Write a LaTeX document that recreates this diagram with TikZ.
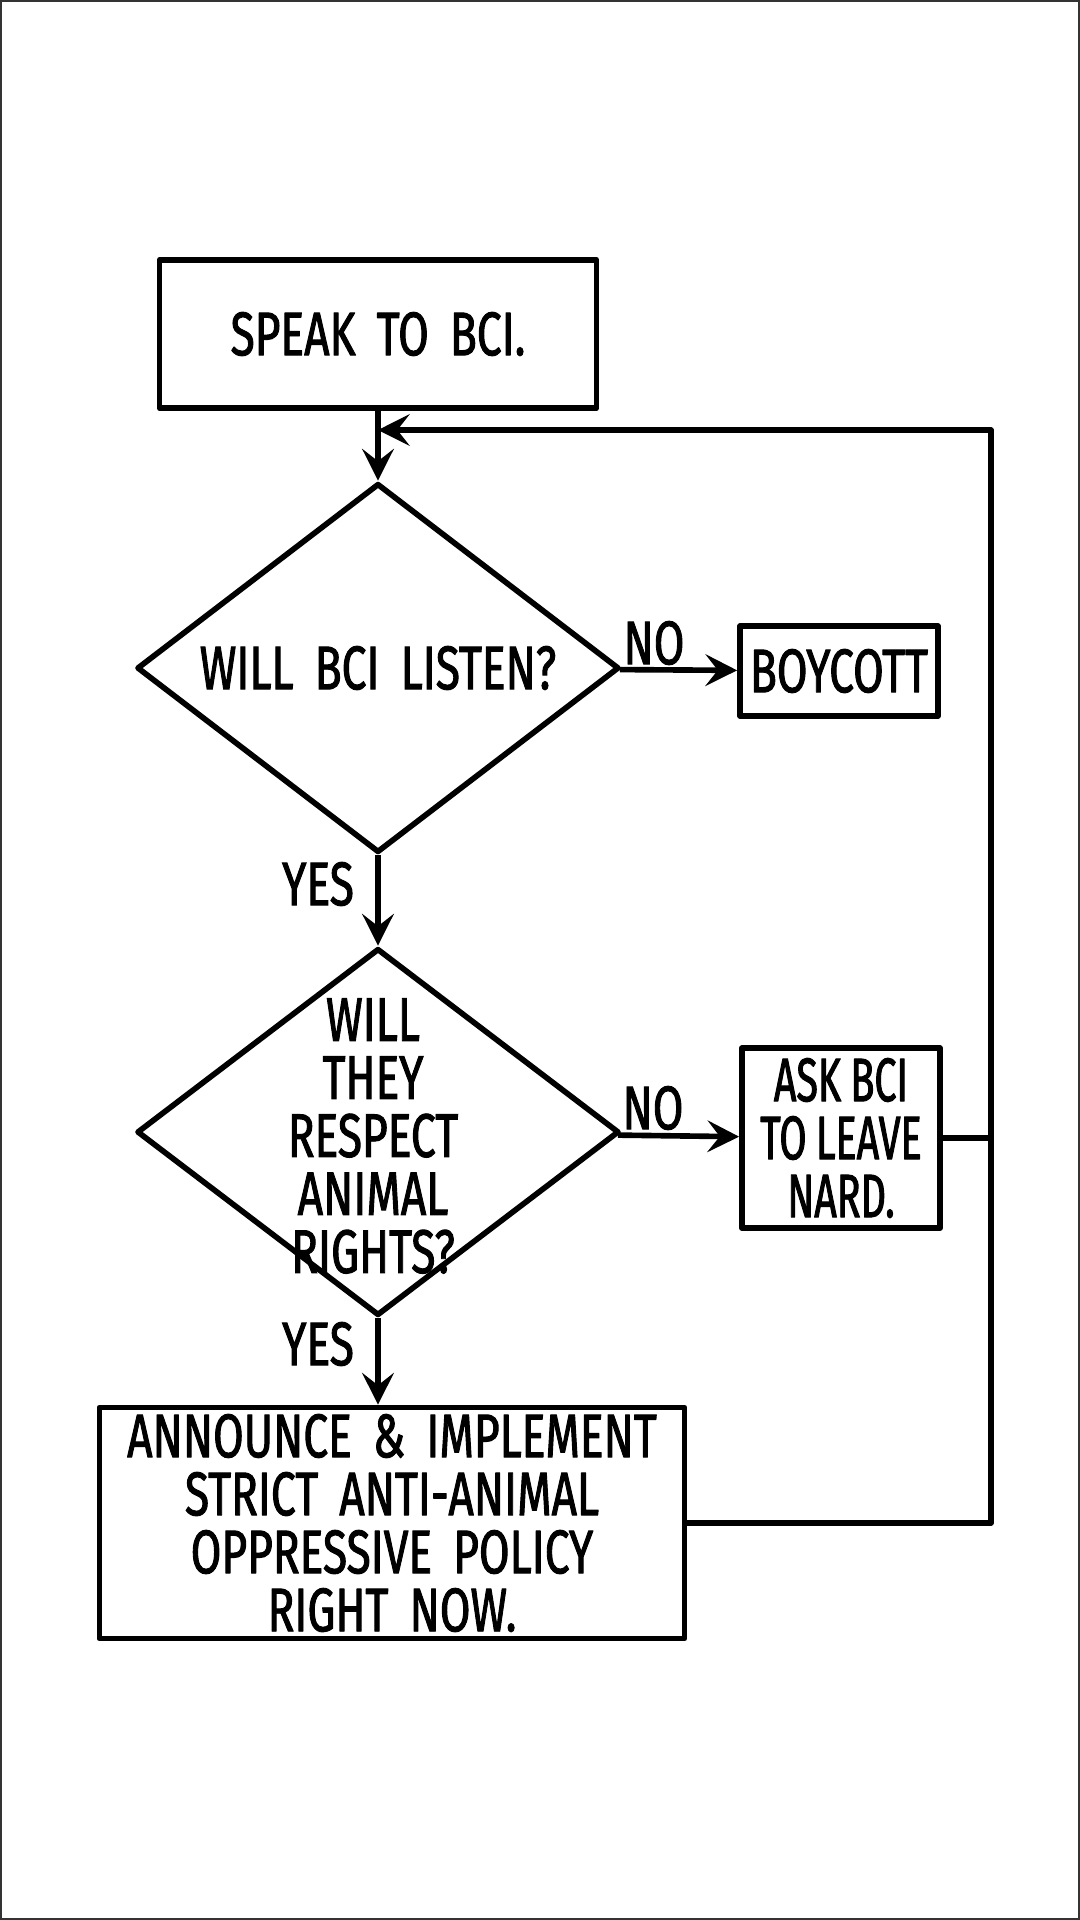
\documentclass[tikz,border=0pt]{standalone}
\usepackage{fontspec}
\setmainfont{Fira Sans}[FakeStretch=0.72, FakeBold=1.5, WordSpace=1.8]
\newfontfamily\narrowfont{Fira Sans}[FakeStretch=0.64, FakeBold=1.5, WordSpace=0.9]
\usetikzlibrary{positioning}
\usetikzlibrary{arrows.meta,shapes.geometric}

\tikzset{
  every node/.style={font=\fontsize{17.5}{16.5}\selectfont},
  stepbox/.style={draw, line width=1.6pt, line join=round, inner sep=0pt, align=center},
  decision/.style={draw, diamond, line width=1.6pt, line join=round, inner sep=0pt},
  line/.style={line width=1.6pt, line join=round},
  arrow/.style={line, -{Stealth[length=9pt,width=9pt,inset=3.5pt]}}
}

\begin{document}
\begin{tikzpicture}[x=0.01cm, y=-0.01cm]

\useasboundingbox (0,0) rectangle (1080,1920);
\draw[line width=0.8pt, black!80] (1,1) rectangle (1079,1919);

% boxes
\node[stepbox, minimum width=4.37cm, minimum height=1.48cm] (speak) at (378,334) {SPEAK TO BCI.};
\node[decision, minimum width=4.82cm, minimum height=3.69cm] (q1) at (378,668) {};
\node (q1text) at (q1) {WILL BCI LISTEN?};
\node[stepbox, minimum width=1.98cm, minimum height=0.9cm] (boycott) at (839,671) {BOYCOTT};
\node[decision, minimum width=4.82cm, minimum height=3.67cm] (q2) at (378,1132) {};
\node[align=center] (q2text) at (373,1136) {WILL\\THEY\\RESPECT\\ANIMAL\\RIGHTS?};
\node[stepbox, minimum width=1.98cm, minimum height=1.8cm,
  font=\narrowfont\fontsize{17.5}{16.5}\selectfont] (ask) at (841,1138) {ASK BCI\\TO LEAVE\\NARD.};
\node[stepbox, minimum width=5.85cm, minimum height=2.31cm] (act) at (392,1523)
  {ANNOUNCE \& IMPLEMENT\\STRICT ANTI-ANIMAL\\OPPRESSIVE POLICY\\RIGHT NOW.};

% labels
\node (noa) at (654,643) {NO};
\node (nob) at (653,1108) {NO};
\node (yesa) at (318,884) {YES};
\node (yesb) at (318,1344) {YES};

% connectors
\draw[arrow] (speak) -- (q1);
\draw[arrow] (q1) -- (boycott);
\draw[arrow] (q1) -- (q2);
\draw[arrow] (q2) -- (ask);
\draw[arrow] (q2.south) -- (q2.south |- act.north);

\coordinate (rtop) at (991,430);
\draw[line] (ask.east) -- (ask.east -| rtop);
\draw[arrow] (act.east) -| (rtop) -- (rtop -| speak.south);

\end{tikzpicture}
\end{document}
